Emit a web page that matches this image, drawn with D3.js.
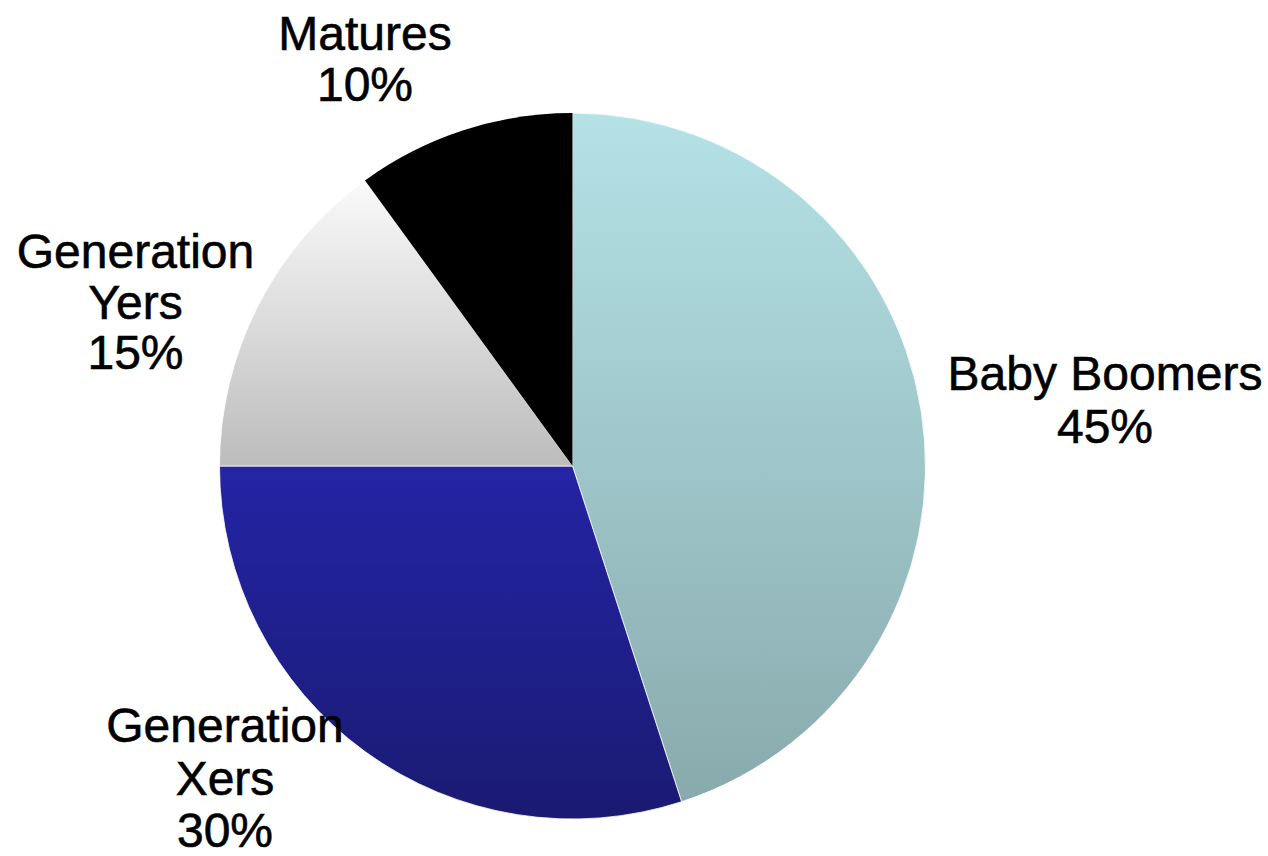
<!DOCTYPE html>
<html>
<head>
<meta charset="utf-8">
<script src="https://cdn.jsdelivr.net/npm/d3@7/dist/d3.min.js"></script>
<style>
  html, body { margin: 0; padding: 0; background: #ffffff; }
  svg { display: block; }
</style>
</head>
<body>
<svg id="chart" width="1268" height="856"></svg>
<script>
// ---- data ----
const categories = ["Baby Boomers", "Generation Xers", "Generation Yers", "Matures"];
const labelLines = [["Baby Boomers"], ["Generation", "Xers"], ["Generation", "Yers"], ["Matures"]];
const values = [45, 30, 15, 10];

// ---- styling / layout ----
const gradTop = ["#b4e2e6", "#2424a6", "#fafafa", "#000000"];
const gradBottom = ["#89aaad", "#1a1a72", "#bcbcbc", "#000000"];
const cx = 572.5, cy = 466, R = 353;
// label anchor (center x, first baseline y) and line spacing per slice
const labelAnchor = [[1105, 390, 53], [225, 742, 52.5], [135.5, 268, 50.5], [365, 50, 51]];

const svg = d3.select("#chart");
const defs = svg.append("defs");
categories.forEach((c, i) => {
  const g = defs.append("linearGradient")
    .attr("id", "grad" + i)
    .attr("x1", 0).attr("y1", 0).attr("x2", 0).attr("y2", 1);
  g.append("stop").attr("offset", "0%").attr("stop-color", gradTop[i]);
  g.append("stop").attr("offset", "100%").attr("stop-color", gradBottom[i]);
});

const pie = d3.pie().sort(null).startAngle(0).endAngle(2 * Math.PI);
const arcs = pie(values);
const arc = d3.arc().innerRadius(0).outerRadius(R);

const g = svg.append("g").attr("transform", `translate(${cx},${cy})`);
g.selectAll("path.slice")
  .data(arcs)
  .enter().append("path")
  .attr("class", "slice")
  .attr("d", arc)
  .attr("fill", (d, i) => `url(#grad${i})`)
  .attr("stroke", (d, i) => i === 3 ? "none" : "#ffffff")
  .attr("stroke-width", 0.8);

// labels
const lbl = svg.append("g")
  .attr("font-family", "'Liberation Sans', Arial, Helvetica, sans-serif")
  .attr("font-size", 48)
  .attr("fill", "#000000")
  .attr("stroke", "#000000")
  .attr("stroke-width", 0.6)
  .attr("text-anchor", "middle");

arcs.forEach((d, i) => {
  const [x, y, lh] = labelAnchor[i];
  const lines = labelLines[i].concat([values[i] + "%"]);
  const t = lbl.append("text").attr("x", x).attr("y", y);
  lines.forEach((s, k) => {
    t.append("tspan").attr("x", x).attr("y", y + k * lh).text(s);
  });
});
</script>
</body>
</html>
